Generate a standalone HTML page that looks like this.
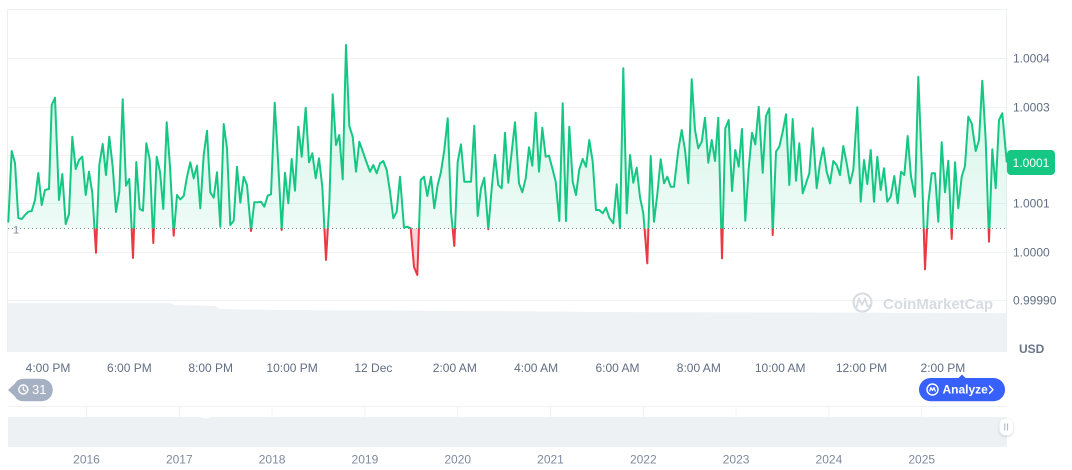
<!DOCTYPE html>
<html><head><meta charset="utf-8"><style>
html,body{margin:0;padding:0;background:#fff;}
svg{display:block;}
text{font-family:"Liberation Sans",Arial,sans-serif;}
</style></head><body>
<svg width="1072" height="470" viewBox="0 0 1072 470" xmlns="http://www.w3.org/2000/svg">
<defs>
<linearGradient id="g" x1="0" y1="40" x2="0" y2="228.5" gradientUnits="userSpaceOnUse">
<stop offset="0" stop-color="#16c784" stop-opacity="0.22"/>
<stop offset="1" stop-color="#16c784" stop-opacity="0.07"/>
</linearGradient>
<clipPath id="ca"><rect x="0" y="0" width="1072" height="228.5"/></clipPath>
<clipPath id="cb"><rect x="0" y="228.5" width="1072" height="80"/></clipPath>
<filter id="sh" x="-50%" y="-50%" width="200%" height="200%"><feDropShadow dx="0" dy="1" stdDeviation="1.2" flood-color="#000" flood-opacity="0.18"/></filter>
</defs>

<!-- frame -->
<line x1="7.5" y1="9.5" x2="1007" y2="9.5" stroke="#eceff3"/>
<line x1="7.5" y1="9.5" x2="7.5" y2="352" stroke="#eceff3"/>
<line x1="1006.5" y1="9.5" x2="1006.5" y2="352" stroke="#eceff3"/>

<!-- gridlines -->
<g stroke="#eff2f5" stroke-width="1">
<line x1="8" y1="58.5" x2="1006" y2="58.5"/>
<line x1="8" y1="107.5" x2="1006" y2="107.5"/>
<line x1="8" y1="155.5" x2="1006" y2="155.5"/>
<line x1="8" y1="203.5" x2="1006" y2="203.5"/>
<line x1="8" y1="252.5" x2="1006" y2="252.5"/>
<line x1="8" y1="300.5" x2="1006" y2="300.5"/>
</g>

<!-- volume -->
<polygon points="8,303 170,303 175,305 215,306 220,309 280,310 500,311 600,312 1006,313 1006,352 8,352" fill="#eff2f5"/>

<!-- watermark -->
<g opacity="0.9">
<circle cx="862.5" cy="302.5" r="9" fill="none" stroke="#d3d8df" stroke-width="2"/>
<path d="M856.5,307 L859,298.5 L862,305 L865,298.5 L867,305 Q868,308 870,305" fill="none" stroke="#d3d8df" stroke-width="1.8" stroke-linejoin="round" stroke-linecap="round"/>
<text x="883" y="309" font-size="15" font-weight="bold" fill="#d3d8df">CoinMarketCap</text>
</g>

<!-- area fills -->
<polygon clip-path="url(#ca)" fill="url(#g)" points="8.3,228.5 8.3,221.7 11.7,151 15,163 18.3,218 21.7,219 25,215 28.3,211.7 31.7,211 35,200 38.3,173 41.7,205 45,190 49,189 51.7,105 55,97.7 59,200 62.3,174 65.7,224 69,214 72.3,136.7 75.7,169 79,160 82.3,156.7 85.7,195 89,171.7 92.3,193 96,252.7 99.3,165 102.7,144 106,175 109.3,136.7 112.7,166.7 116,212 119.3,191.7 122.7,99.3 126,185.7 129.3,179 133,258 136.3,162 139.7,209 143,210.7 146.3,143.3 149.7,159.3 153.3,243 156.7,156.7 160,171.7 163.3,209 166.7,122.3 170,166.7 173.7,235.7 177,195 180.3,199.3 183.7,196 187,176.7 190.3,162.3 193.7,178.3 197,165.7 200.3,208.3 203.7,155 207,130.7 210.3,192.3 213.7,197.7 217,172.3 220.3,226.7 223.7,124 227,148.3 230.3,225 233.7,220.7 237,166.7 240.3,202.7 243.7,176.7 247,185 251,231 254.3,202.3 257.7,202.3 261,201.7 264.3,206.7 267.7,195.7 271,194.3 274.7,102.7 278,159.3 281.7,230 285,172.7 288.3,203.3 291.7,159 295,190.7 298.3,126.7 301.7,156.7 305.7,107.7 309,162.3 312.3,153.3 315.7,178.3 319,158.3 322.3,186.7 326,260 329.3,203.3 332.7,94.3 336,145 339.3,135 342.7,179.3 346,45 349.3,126 352.7,136.7 356,171.7 359.3,141.7 362.3,150 365.7,160 370,171.7 373.3,165 376.7,173.3 380,163.3 383.3,161 386.7,170 390,191.7 393.3,218.3 396.7,211.7 400,176.7 404,227.7 407.3,226.7 410.7,228.3 414,266.7 417.3,275 420.7,180 424,176.7 427.3,196 431,176.7 434.3,208.3 437.7,185 441,171.7 444.3,150 447.7,118.3 451,211.7 454.3,246 457.7,161.7 461,144.3 464.3,181.7 467.7,181.7 471,181.7 474.3,125.7 477.7,216 481,188.3 484.3,177.7 488.3,229.3 491.7,188.3 495,155 498.3,185 501.7,188.3 505,132.7 508.3,182.7 511.7,151.7 515,122.3 519,183.3 522.3,192.3 525.7,178.3 529,147.3 532.3,165.7 535.7,112.7 539,171.7 542.3,127.7 545.7,156.7 549,155.7 552.3,168.3 555.7,181.7 559.3,221 562.7,103.3 566,221 569.3,126.7 572.7,181.7 576,195 579.3,169.3 582.7,159 586,166.7 589.3,140 592.7,161.7 596,210 599.3,210 602.7,213.3 606,207.7 609.3,217.7 613.3,223.3 616.7,184.3 620,228.3 623.3,68.3 626.7,213.3 630,155 633.3,182.7 636.7,167.7 640,197.3 643.3,213.3 647.3,263.3 650.7,156 654,221.7 657.3,194.3 660.7,159.3 664,183.3 667.3,176.7 670.7,186.7 674,186.7 678.3,150 681.7,130 685,150 688.3,183.3 691.7,79.3 695,130 698.3,148.3 701.7,141.7 705,117.7 708.3,162.7 711.7,140 715,161 718.3,117.7 722,258.3 725.3,128.3 728.7,120 732,191 735.3,150 738.7,166.7 742,129 745.3,220.7 748.7,168.3 752,132.7 755.3,144.3 758.7,106.7 762.7,172.7 766,116 769.3,108.3 772.7,235 776,151.7 779.3,146.7 782.7,131.7 786,114.3 789.3,185 792.7,119 796,180.7 799.3,143.3 802.7,193.3 806,183.3 809.3,173.3 812.7,128.3 816.7,188.3 820,163.3 823.3,147.7 826.7,171.7 830,183.3 833.3,161 836.7,165 840,175 843.3,146 846.7,163.3 850,183.3 853.3,170 857.3,107.3 860.7,201.7 864,160 867.3,184 870.7,150 874,201.7 877.3,156.7 880.7,190 884,168.3 887.3,201.7 890.7,196.7 894.3,176 897.7,203.3 901,171.7 904.3,175 907.7,136 911,176.7 915,196.7 918.3,76.7 921.7,163.3 925,269.3 928.3,203.3 931.7,173.3 935,173.3 938.3,221.7 941.7,142.3 945,192.3 948.3,160.7 951.7,239 955,162.3 958.3,208.3 961.7,176.7 965,166 968.3,116.7 971.7,123.3 975.7,151 979,140 982.3,80.7 985.7,140 989,241.7 992.3,149.3 995.7,188.3 999,120 1002.3,113.3 1006.7,161.7 1006.7,228.5"/>
<polygon clip-path="url(#cb)" fill="#ea3943" fill-opacity="0.22" points="8.3,228.5 8.3,221.7 11.7,151 15,163 18.3,218 21.7,219 25,215 28.3,211.7 31.7,211 35,200 38.3,173 41.7,205 45,190 49,189 51.7,105 55,97.7 59,200 62.3,174 65.7,224 69,214 72.3,136.7 75.7,169 79,160 82.3,156.7 85.7,195 89,171.7 92.3,193 96,252.7 99.3,165 102.7,144 106,175 109.3,136.7 112.7,166.7 116,212 119.3,191.7 122.7,99.3 126,185.7 129.3,179 133,258 136.3,162 139.7,209 143,210.7 146.3,143.3 149.7,159.3 153.3,243 156.7,156.7 160,171.7 163.3,209 166.7,122.3 170,166.7 173.7,235.7 177,195 180.3,199.3 183.7,196 187,176.7 190.3,162.3 193.7,178.3 197,165.7 200.3,208.3 203.7,155 207,130.7 210.3,192.3 213.7,197.7 217,172.3 220.3,226.7 223.7,124 227,148.3 230.3,225 233.7,220.7 237,166.7 240.3,202.7 243.7,176.7 247,185 251,231 254.3,202.3 257.7,202.3 261,201.7 264.3,206.7 267.7,195.7 271,194.3 274.7,102.7 278,159.3 281.7,230 285,172.7 288.3,203.3 291.7,159 295,190.7 298.3,126.7 301.7,156.7 305.7,107.7 309,162.3 312.3,153.3 315.7,178.3 319,158.3 322.3,186.7 326,260 329.3,203.3 332.7,94.3 336,145 339.3,135 342.7,179.3 346,45 349.3,126 352.7,136.7 356,171.7 359.3,141.7 362.3,150 365.7,160 370,171.7 373.3,165 376.7,173.3 380,163.3 383.3,161 386.7,170 390,191.7 393.3,218.3 396.7,211.7 400,176.7 404,227.7 407.3,226.7 410.7,228.3 414,266.7 417.3,275 420.7,180 424,176.7 427.3,196 431,176.7 434.3,208.3 437.7,185 441,171.7 444.3,150 447.7,118.3 451,211.7 454.3,246 457.7,161.7 461,144.3 464.3,181.7 467.7,181.7 471,181.7 474.3,125.7 477.7,216 481,188.3 484.3,177.7 488.3,229.3 491.7,188.3 495,155 498.3,185 501.7,188.3 505,132.7 508.3,182.7 511.7,151.7 515,122.3 519,183.3 522.3,192.3 525.7,178.3 529,147.3 532.3,165.7 535.7,112.7 539,171.7 542.3,127.7 545.7,156.7 549,155.7 552.3,168.3 555.7,181.7 559.3,221 562.7,103.3 566,221 569.3,126.7 572.7,181.7 576,195 579.3,169.3 582.7,159 586,166.7 589.3,140 592.7,161.7 596,210 599.3,210 602.7,213.3 606,207.7 609.3,217.7 613.3,223.3 616.7,184.3 620,228.3 623.3,68.3 626.7,213.3 630,155 633.3,182.7 636.7,167.7 640,197.3 643.3,213.3 647.3,263.3 650.7,156 654,221.7 657.3,194.3 660.7,159.3 664,183.3 667.3,176.7 670.7,186.7 674,186.7 678.3,150 681.7,130 685,150 688.3,183.3 691.7,79.3 695,130 698.3,148.3 701.7,141.7 705,117.7 708.3,162.7 711.7,140 715,161 718.3,117.7 722,258.3 725.3,128.3 728.7,120 732,191 735.3,150 738.7,166.7 742,129 745.3,220.7 748.7,168.3 752,132.7 755.3,144.3 758.7,106.7 762.7,172.7 766,116 769.3,108.3 772.7,235 776,151.7 779.3,146.7 782.7,131.7 786,114.3 789.3,185 792.7,119 796,180.7 799.3,143.3 802.7,193.3 806,183.3 809.3,173.3 812.7,128.3 816.7,188.3 820,163.3 823.3,147.7 826.7,171.7 830,183.3 833.3,161 836.7,165 840,175 843.3,146 846.7,163.3 850,183.3 853.3,170 857.3,107.3 860.7,201.7 864,160 867.3,184 870.7,150 874,201.7 877.3,156.7 880.7,190 884,168.3 887.3,201.7 890.7,196.7 894.3,176 897.7,203.3 901,171.7 904.3,175 907.7,136 911,176.7 915,196.7 918.3,76.7 921.7,163.3 925,269.3 928.3,203.3 931.7,173.3 935,173.3 938.3,221.7 941.7,142.3 945,192.3 948.3,160.7 951.7,239 955,162.3 958.3,208.3 961.7,176.7 965,166 968.3,116.7 971.7,123.3 975.7,151 979,140 982.3,80.7 985.7,140 989,241.7 992.3,149.3 995.7,188.3 999,120 1002.3,113.3 1006.7,161.7 1006.7,228.5"/>

<!-- baseline -->
<line x1="8" y1="228.5" x2="1006" y2="228.5" stroke="#7f8796" stroke-width="1" stroke-dasharray="1 3"/>

<!-- lines -->
<g fill="none" stroke-width="2" stroke-linejoin="round" stroke-linecap="round">
<polyline clip-path="url(#ca)" stroke="#16c784" points="8.3,221.7 11.7,151 15,163 18.3,218 21.7,219 25,215 28.3,211.7 31.7,211 35,200 38.3,173 41.7,205 45,190 49,189 51.7,105 55,97.7 59,200 62.3,174 65.7,224 69,214 72.3,136.7 75.7,169 79,160 82.3,156.7 85.7,195 89,171.7 92.3,193 96,252.7 99.3,165 102.7,144 106,175 109.3,136.7 112.7,166.7 116,212 119.3,191.7 122.7,99.3 126,185.7 129.3,179 133,258 136.3,162 139.7,209 143,210.7 146.3,143.3 149.7,159.3 153.3,243 156.7,156.7 160,171.7 163.3,209 166.7,122.3 170,166.7 173.7,235.7 177,195 180.3,199.3 183.7,196 187,176.7 190.3,162.3 193.7,178.3 197,165.7 200.3,208.3 203.7,155 207,130.7 210.3,192.3 213.7,197.7 217,172.3 220.3,226.7 223.7,124 227,148.3 230.3,225 233.7,220.7 237,166.7 240.3,202.7 243.7,176.7 247,185 251,231 254.3,202.3 257.7,202.3 261,201.7 264.3,206.7 267.7,195.7 271,194.3 274.7,102.7 278,159.3 281.7,230 285,172.7 288.3,203.3 291.7,159 295,190.7 298.3,126.7 301.7,156.7 305.7,107.7 309,162.3 312.3,153.3 315.7,178.3 319,158.3 322.3,186.7 326,260 329.3,203.3 332.7,94.3 336,145 339.3,135 342.7,179.3 346,45 349.3,126 352.7,136.7 356,171.7 359.3,141.7 362.3,150 365.7,160 370,171.7 373.3,165 376.7,173.3 380,163.3 383.3,161 386.7,170 390,191.7 393.3,218.3 396.7,211.7 400,176.7 404,227.7 407.3,226.7 410.7,228.3 414,266.7 417.3,275 420.7,180 424,176.7 427.3,196 431,176.7 434.3,208.3 437.7,185 441,171.7 444.3,150 447.7,118.3 451,211.7 454.3,246 457.7,161.7 461,144.3 464.3,181.7 467.7,181.7 471,181.7 474.3,125.7 477.7,216 481,188.3 484.3,177.7 488.3,229.3 491.7,188.3 495,155 498.3,185 501.7,188.3 505,132.7 508.3,182.7 511.7,151.7 515,122.3 519,183.3 522.3,192.3 525.7,178.3 529,147.3 532.3,165.7 535.7,112.7 539,171.7 542.3,127.7 545.7,156.7 549,155.7 552.3,168.3 555.7,181.7 559.3,221 562.7,103.3 566,221 569.3,126.7 572.7,181.7 576,195 579.3,169.3 582.7,159 586,166.7 589.3,140 592.7,161.7 596,210 599.3,210 602.7,213.3 606,207.7 609.3,217.7 613.3,223.3 616.7,184.3 620,228.3 623.3,68.3 626.7,213.3 630,155 633.3,182.7 636.7,167.7 640,197.3 643.3,213.3 647.3,263.3 650.7,156 654,221.7 657.3,194.3 660.7,159.3 664,183.3 667.3,176.7 670.7,186.7 674,186.7 678.3,150 681.7,130 685,150 688.3,183.3 691.7,79.3 695,130 698.3,148.3 701.7,141.7 705,117.7 708.3,162.7 711.7,140 715,161 718.3,117.7 722,258.3 725.3,128.3 728.7,120 732,191 735.3,150 738.7,166.7 742,129 745.3,220.7 748.7,168.3 752,132.7 755.3,144.3 758.7,106.7 762.7,172.7 766,116 769.3,108.3 772.7,235 776,151.7 779.3,146.7 782.7,131.7 786,114.3 789.3,185 792.7,119 796,180.7 799.3,143.3 802.7,193.3 806,183.3 809.3,173.3 812.7,128.3 816.7,188.3 820,163.3 823.3,147.7 826.7,171.7 830,183.3 833.3,161 836.7,165 840,175 843.3,146 846.7,163.3 850,183.3 853.3,170 857.3,107.3 860.7,201.7 864,160 867.3,184 870.7,150 874,201.7 877.3,156.7 880.7,190 884,168.3 887.3,201.7 890.7,196.7 894.3,176 897.7,203.3 901,171.7 904.3,175 907.7,136 911,176.7 915,196.7 918.3,76.7 921.7,163.3 925,269.3 928.3,203.3 931.7,173.3 935,173.3 938.3,221.7 941.7,142.3 945,192.3 948.3,160.7 951.7,239 955,162.3 958.3,208.3 961.7,176.7 965,166 968.3,116.7 971.7,123.3 975.7,151 979,140 982.3,80.7 985.7,140 989,241.7 992.3,149.3 995.7,188.3 999,120 1002.3,113.3 1006.7,161.7"/>
<polyline clip-path="url(#cb)" stroke="#ea3943" points="8.3,221.7 11.7,151 15,163 18.3,218 21.7,219 25,215 28.3,211.7 31.7,211 35,200 38.3,173 41.7,205 45,190 49,189 51.7,105 55,97.7 59,200 62.3,174 65.7,224 69,214 72.3,136.7 75.7,169 79,160 82.3,156.7 85.7,195 89,171.7 92.3,193 96,252.7 99.3,165 102.7,144 106,175 109.3,136.7 112.7,166.7 116,212 119.3,191.7 122.7,99.3 126,185.7 129.3,179 133,258 136.3,162 139.7,209 143,210.7 146.3,143.3 149.7,159.3 153.3,243 156.7,156.7 160,171.7 163.3,209 166.7,122.3 170,166.7 173.7,235.7 177,195 180.3,199.3 183.7,196 187,176.7 190.3,162.3 193.7,178.3 197,165.7 200.3,208.3 203.7,155 207,130.7 210.3,192.3 213.7,197.7 217,172.3 220.3,226.7 223.7,124 227,148.3 230.3,225 233.7,220.7 237,166.7 240.3,202.7 243.7,176.7 247,185 251,231 254.3,202.3 257.7,202.3 261,201.7 264.3,206.7 267.7,195.7 271,194.3 274.7,102.7 278,159.3 281.7,230 285,172.7 288.3,203.3 291.7,159 295,190.7 298.3,126.7 301.7,156.7 305.7,107.7 309,162.3 312.3,153.3 315.7,178.3 319,158.3 322.3,186.7 326,260 329.3,203.3 332.7,94.3 336,145 339.3,135 342.7,179.3 346,45 349.3,126 352.7,136.7 356,171.7 359.3,141.7 362.3,150 365.7,160 370,171.7 373.3,165 376.7,173.3 380,163.3 383.3,161 386.7,170 390,191.7 393.3,218.3 396.7,211.7 400,176.7 404,227.7 407.3,226.7 410.7,228.3 414,266.7 417.3,275 420.7,180 424,176.7 427.3,196 431,176.7 434.3,208.3 437.7,185 441,171.7 444.3,150 447.7,118.3 451,211.7 454.3,246 457.7,161.7 461,144.3 464.3,181.7 467.7,181.7 471,181.7 474.3,125.7 477.7,216 481,188.3 484.3,177.7 488.3,229.3 491.7,188.3 495,155 498.3,185 501.7,188.3 505,132.7 508.3,182.7 511.7,151.7 515,122.3 519,183.3 522.3,192.3 525.7,178.3 529,147.3 532.3,165.7 535.7,112.7 539,171.7 542.3,127.7 545.7,156.7 549,155.7 552.3,168.3 555.7,181.7 559.3,221 562.7,103.3 566,221 569.3,126.7 572.7,181.7 576,195 579.3,169.3 582.7,159 586,166.7 589.3,140 592.7,161.7 596,210 599.3,210 602.7,213.3 606,207.7 609.3,217.7 613.3,223.3 616.7,184.3 620,228.3 623.3,68.3 626.7,213.3 630,155 633.3,182.7 636.7,167.7 640,197.3 643.3,213.3 647.3,263.3 650.7,156 654,221.7 657.3,194.3 660.7,159.3 664,183.3 667.3,176.7 670.7,186.7 674,186.7 678.3,150 681.7,130 685,150 688.3,183.3 691.7,79.3 695,130 698.3,148.3 701.7,141.7 705,117.7 708.3,162.7 711.7,140 715,161 718.3,117.7 722,258.3 725.3,128.3 728.7,120 732,191 735.3,150 738.7,166.7 742,129 745.3,220.7 748.7,168.3 752,132.7 755.3,144.3 758.7,106.7 762.7,172.7 766,116 769.3,108.3 772.7,235 776,151.7 779.3,146.7 782.7,131.7 786,114.3 789.3,185 792.7,119 796,180.7 799.3,143.3 802.7,193.3 806,183.3 809.3,173.3 812.7,128.3 816.7,188.3 820,163.3 823.3,147.7 826.7,171.7 830,183.3 833.3,161 836.7,165 840,175 843.3,146 846.7,163.3 850,183.3 853.3,170 857.3,107.3 860.7,201.7 864,160 867.3,184 870.7,150 874,201.7 877.3,156.7 880.7,190 884,168.3 887.3,201.7 890.7,196.7 894.3,176 897.7,203.3 901,171.7 904.3,175 907.7,136 911,176.7 915,196.7 918.3,76.7 921.7,163.3 925,269.3 928.3,203.3 931.7,173.3 935,173.3 938.3,221.7 941.7,142.3 945,192.3 948.3,160.7 951.7,239 955,162.3 958.3,208.3 961.7,176.7 965,166 968.3,116.7 971.7,123.3 975.7,151 979,140 982.3,80.7 985.7,140 989,241.7 992.3,149.3 995.7,188.3 999,120 1002.3,113.3 1006.7,161.7"/>
</g>

<!-- left "1" label -->
<text x="13" y="233.5" font-size="11" fill="#808a9d">1</text>

<!-- y labels -->
<g font-size="12" fill="#616e85">
<text x="1013" y="62.5">1.0004</text>
<text x="1013" y="111.5">1.0003</text>
<text x="1013" y="207.5">1.0001</text>
<text x="1013" y="256.5">1.0000</text>
<text x="1013" y="304.5">0.99990</text>
</g>
<!-- price tag -->
<rect x="1007" y="150" width="48" height="25" rx="4" fill="#16c784"/>
<text x="1031" y="167" font-size="12" fill="#fff" text-anchor="middle">1.0001</text>

<text x="1019" y="353" font-size="12" font-weight="bold" fill="#6b7589">USD</text>

<!-- x labels -->
<g font-size="12" fill="#616e85" text-anchor="middle">
<text x="48" y="372">4:00 PM</text>
<text x="129.4" y="372">6:00 PM</text>
<text x="210.7" y="372">8:00 PM</text>
<text x="292.1" y="372">10:00 PM</text>
<text x="373.4" y="372">12 Dec</text>
<text x="454.8" y="372">2:00 AM</text>
<text x="536.1" y="372">4:00 AM</text>
<text x="617.5" y="372">6:00 AM</text>
<text x="698.8" y="372">8:00 AM</text>
<text x="780.2" y="372">10:00 AM</text>
<text x="861.5" y="372">12:00 PM</text>
<text x="942.9" y="372">2:00 PM</text>
</g>

<!-- badge 31 -->
<path d="M8,390 L15,383.5 Q17,378.7 24,378.7 L41.5,378.7 A11.3,11.3 0 0 1 41.5,401.3 L24,401.3 Q17,401.3 15,396.5 Z" fill="#a6b0c3"/>
<circle cx="23.3" cy="389.5" r="4.5" fill="none" stroke="#fff" stroke-width="1.4"/>
<path d="M23.3,387 L23.3,389.7 L25.2,390.9" fill="none" stroke="#fff" stroke-width="1.2" stroke-linecap="round"/>
<text x="32" y="394" font-size="13" fill="#fff">31</text>

<!-- analyze button -->
<path d="M958.5,378 L962,374.5 L965.5,378 Z" fill="#3861fb"/>
<rect x="919" y="378" width="86" height="23.3" rx="11.6" fill="#3861fb"/>
<circle cx="932.5" cy="389.5" r="5.5" fill="none" stroke="#fff" stroke-width="1.4"/>
<path d="M929.5,391.5 L931,387.5 L932.5,390.5 L934,387.5 L935.5,391.5" fill="none" stroke="#fff" stroke-width="1.2" stroke-linejoin="round"/>
<text x="942.5" y="393.5" font-size="12" font-weight="bold" fill="#fff">Analyze</text>
<path d="M989.5,386 L993,389.7 L989.5,393.4" fill="none" stroke="#fff" stroke-width="1.4" stroke-linecap="round" stroke-linejoin="round"/>

<!-- navigator -->
<line x1="8" y1="406.5" x2="1007" y2="406.5" stroke="#eff2f5"/>
<g stroke="#eff2f5">
<line x1="86.5" y1="407" x2="86.5" y2="417"/>
<line x1="179.3" y1="407" x2="179.3" y2="417"/>
<line x1="272.1" y1="407" x2="272.1" y2="417"/>
<line x1="364.9" y1="407" x2="364.9" y2="417"/>
<line x1="457.7" y1="407" x2="457.7" y2="417"/>
<line x1="550.5" y1="407" x2="550.5" y2="417"/>
<line x1="643.3" y1="407" x2="643.3" y2="417"/>
<line x1="736.1" y1="407" x2="736.1" y2="417"/>
<line x1="828.9" y1="407" x2="828.9" y2="417"/>
<line x1="921.7" y1="407" x2="921.7" y2="417"/>
</g>
<polygon points="8,417 200,417 205,418.5 212,417 1007,417 1007,447 8,447" fill="#eef1f4"/>
<rect x="999.5" y="418.7" width="13.5" height="16.6" rx="6" fill="#fff" filter="url(#sh)"/>
<line x1="1004.8" y1="423.5" x2="1004.8" y2="430.5" stroke="#a6b0c3" stroke-width="1"/>
<line x1="1007.6" y1="423.5" x2="1007.6" y2="430.5" stroke="#a6b0c3" stroke-width="1"/>

<g font-size="12" fill="#808a9d" text-anchor="middle">
<text x="86.5" y="463.5">2016</text>
<text x="179.3" y="463.5">2017</text>
<text x="272.1" y="463.5">2018</text>
<text x="364.9" y="463.5">2019</text>
<text x="457.7" y="463.5">2020</text>
<text x="550.5" y="463.5">2021</text>
<text x="643.3" y="463.5">2022</text>
<text x="736.1" y="463.5">2023</text>
<text x="828.9" y="463.5">2024</text>
<text x="921.7" y="463.5">2025</text>
</g>
</svg>
</body></html>
